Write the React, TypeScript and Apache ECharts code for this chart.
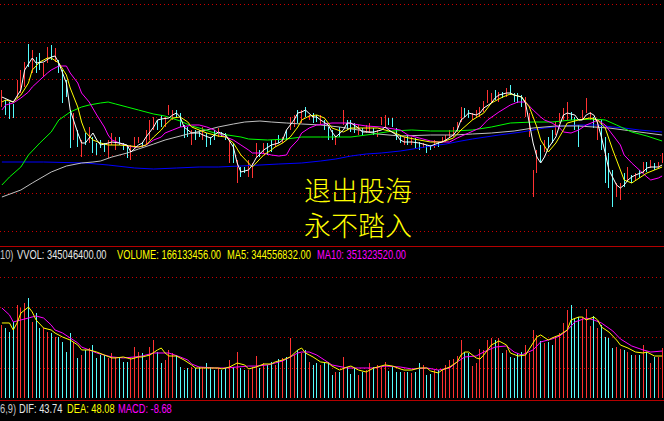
import { useEffect, useRef } from "react";
import * as echarts from "echarts";

// ---- candle data: [open, close, low, high] (index points) ----
const candles: number[][] = [
  [3195,3208,3193,3210],[3198,3187,3185,3200],[3196,3183,3181,3198],[3194,3184,3182,3196],[3204,3218,3202,3220],
  [3209,3228,3207,3230],[3215,3236,3213,3238],[3254,3235,3233,3256],[3229,3248,3227,3250],[3241,3229,3227,3243],
  [3245,3232,3230,3247],[3225,3235,3223,3237],[3239,3251,3237,3253],[3253,3242,3240,3255],[3240,3250,3238,3252],
  [3238,3229,3227,3240],[3228,3199,3197,3230],[3218,3205,3203,3220],[3188,3154,3152,3190],[3162,3185,3160,3187],
  [3168,3155,3153,3170],[3145,3158,3143,3160],[3165,3157,3155,3167],[3159,3171,3157,3173],[3161,3149,3147,3163],
  [3155,3147,3145,3157],[3158,3154,3152,3160],[3155,3150,3148,3157],[3144,3158,3142,3160],[3157,3165,3155,3167],
  [3152,3161,3150,3163],[3161,3157,3155,3163],[3156,3151,3150,3157],[3153,3144,3142,3155],[3142,3153,3140,3155],
  [3154,3161,3152,3163],[3158,3162,3157,3163],[3157,3154,3153,3158],[3157,3168,3155,3170],[3162,3178,3160,3180],
  [3172,3181,3170,3183],[3178,3172,3170,3180],[3183,3175,3173,3185],[3175,3181,3173,3183],[3187,3193,3185,3195],
  [3182,3188,3180,3190],[3188,3184,3182,3190],[3185,3175,3173,3187],[3173,3164,3162,3175],[3171,3165,3163,3173],
  [3157,3168,3155,3170],[3168,3162,3160,3170],[3169,3164,3163,3170],[3162,3171,3160,3173],[3165,3155,3153,3167],
  [3161,3157,3155,3163],[3168,3162,3160,3170],[3165,3170,3163,3172],[3167,3164,3163,3168],[3166,3161,3160,3167],
  [3139,3158,3137,3160],[3155,3139,3137,3157],[3119,3138,3117,3140],[3131,3125,3123,3133],[3132,3128,3127,3133],
  [3125,3138,3123,3140],[3124,3135,3122,3137],[3145,3155,3143,3157],[3149,3144,3143,3150],[3149,3155,3147,3157],
  [3155,3147,3145,3157],[3158,3150,3148,3160],[3154,3159,3153,3160],[3163,3159,3157,3165],[3158,3162,3157,3163],
  [3168,3162,3160,3170],[3172,3181,3170,3183],[3175,3183,3173,3185],[3188,3179,3177,3190],[3179,3188,3177,3190],
  [3191,3185,3183,3193],[3181,3184,3180,3185],[3185,3179,3177,3187],[3184,3179,3178,3185],[3177,3183,3175,3185],
  [3178,3172,3170,3180],[3171,3162,3160,3173],[3168,3162,3160,3170],[3157,3161,3155,3163],[3171,3165,3163,3173],
  [3177,3188,3175,3190],[3178,3172,3170,3180],[3178,3170,3168,3180],[3175,3169,3167,3177],[3167,3173,3165,3175],
  [3171,3166,3165,3172],[3168,3174,3167,3175],[3169,3175,3167,3177],[3171,3166,3165,3172],[3164,3169,3163,3170],
  [3176,3182,3175,3183],[3175,3183,3173,3185],[3181,3176,3175,3182],[3180,3175,3173,3182],[3170,3162,3160,3172],
  [3163,3159,3157,3165],[3157,3161,3155,3163],[3163,3157,3155,3165],[3157,3161,3155,3163],[3160,3154,3152,3162],
  [3156,3152,3150,3158],[3153,3156,3152,3157],[3153,3149,3147,3155],[3154,3151,3150,3155],[3154,3158,3152,3160],
  [3157,3154,3153,3158],[3159,3162,3158,3163],[3159,3164,3158,3165],[3164,3169,3163,3170],[3165,3171,3163,3173],
  [3170,3176,3168,3178],[3180,3191,3178,3193],[3190,3185,3183,3192],[3188,3184,3182,3190],[3181,3186,3180,3187],
  [3183,3189,3182,3190],[3185,3191,3183,3193],[3190,3197,3188,3199],[3199,3208,3197,3210],[3199,3205,3197,3207],
  [3208,3202,3200,3210],[3200,3206,3198,3208],[3207,3203,3202,3208],[3205,3210,3203,3212],[3213,3207,3205,3215],
  [3205,3200,3198,3207],[3205,3199,3197,3207],[3203,3195,3193,3205],[3185,3201,3183,3203],[3165,3185,3163,3187],
  [3105,3128,3103,3130],[3129,3148,3127,3150],[3153,3140,3138,3155],[3150,3158,3148,3160],[3161,3154,3152,3163],
  [3168,3159,3157,3170],[3167,3176,3165,3178],[3179,3185,3177,3187],[3182,3190,3180,3192],[3182,3196,3180,3198],
  [3186,3182,3180,3188],[3181,3172,3170,3183],[3173,3155,3153,3175],[3182,3188,3180,3190],[3189,3200,3187,3202],
  [3182,3186,3180,3188],[3181,3174,3172,3183],[3162,3178,3160,3180],[3178,3152,3150,3180],[3161,3119,3117,3163],
  [3145,3114,3112,3147],[3128,3095,3093,3130],[3105,3115,3103,3117],[3102,3115,3100,3117],[3125,3115,3113,3127],
  [3122,3131,3120,3133],[3123,3119,3117,3125],[3121,3126,3120,3127],[3128,3124,3122,3130],[3129,3136,3127,3138],
  [3136,3130,3128,3138],[3133,3139,3132,3140],[3136,3131,3130,3137],[3133,3137,3132,3138],[3139,3145,3137,3147],
];

// ---- volume (millions) ----
const volumes: number[] = [
  603,578,545,628,769,744,785,826,628,702,
  578,578,545,537,504,504,463,380,537,463,
  331,355,397,413,438,331,355,355,331,372,
  339,331,298,298,331,421,380,372,314,421,
  479,380,289,314,397,372,355,256,231,248,
  256,248,256,256,289,256,231,248,231,248,
  314,256,380,248,231,231,256,347,248,289,
  273,298,273,322,331,339,496,355,397,372,
  397,298,273,289,273,289,298,190,215,215,
  339,256,198,248,190,215,231,289,256,273,
  256,298,223,256,215,215,215,215,207,215,
  289,273,190,198,231,231,231,273,314,322,
  347,479,380,372,264,289,405,397,479,496,
  479,496,372,397,339,331,372,380,438,372,
  562,521,471,455,463,438,512,537,620,727,
  769,661,669,669,736,595,678,578,603,504,
  496,413,421,405,397,380,355,355,355,438,
  380,289,339,339,413,
];

// ---- price moving averages: [candle index, value] ----
const ma5: number[][] = [[0,3203],[3,3198],[5,3210],[6,3230],[8,3242],[9,3237],[11,3238],[13,3243],[14,3244],[15,3237],[17,3217],[18,3190],[20,3167],[21,3157],[22,3157],[24,3167],[25,3160],[26,3155],[28,3157],[29,3158],[31,3157],[33,3155],[34,3148],[36,3155],[37,3157],[38,3163],[40,3173],[41,3180],[42,3181],[44,3182],[45,3185],[46,3187],[47,3183],[48,3173],[49,3170],[50,3167],[52,3167],[53,3165],[55,3162],[56,3165],[57,3168],[59,3165],[61,3153],[62,3137],[63,3128],[65,3130],[66,3135],[67,3142],[69,3150],[71,3155],[73,3157],[74,3160],[75,3170],[77,3180],[78,3187],[79,3188],[80,3190],[82,3183],[83,3183],[84,3180],[86,3175],[87,3168],[88,3163],[90,3170],[91,3177],[92,3177],[94,3172],[95,3168],[97,3168],[98,3168],[100,3170],[101,3173],[102,3170],[104,3165],[105,3160],[106,3158],[108,3158],[110,3157],[112,3155],[113,3154],[115,3157],[116,3158],[117,3160],[119,3165],[120,3170],[121,3180],[122,3183],[123,3187],[125,3185],[126,3187],[127,3192],[129,3197],[130,3202],[131,3205],[133,3207],[134,3207],[135,3205],[137,3203],[138,3197],[139,3177],[140,3157],[141,3143],[142,3137],[143,3143],[144,3152],[146,3163],[147,3175],[148,3185],[149,3187],[151,3185],[152,3180],[153,3180],[154,3185],[155,3187],[156,3185],[157,3177],[158,3163],[159,3147],[160,3130],[162,3115],[163,3112],[164,3115],[165,3120],[166,3123],[167,3125],[169,3128],[170,3132],[171,3133],[173,3133],[174,3135]];
const ma10: number[][] = [[0,3198],[1,3200],[3,3198],[5,3205],[7,3217],[8,3230],[10,3238],[12,3242],[13,3242],[15,3237],[17,3225],[18,3212],[20,3193],[21,3178],[22,3168],[24,3160],[26,3157],[28,3155],[31,3155],[34,3154],[36,3153],[38,3155],[40,3163],[42,3170],[43,3175],[45,3182],[47,3183],[49,3178],[50,3173],[52,3170],[54,3167],[56,3165],[57,3164],[59,3163],[61,3157],[63,3145],[65,3137],[66,3133],[67,3137],[69,3145],[71,3150],[72,3153],[74,3157],[76,3163],[78,3173],[79,3180],[81,3184],[83,3185],[85,3182],[87,3172],[90,3168],[92,3172],[96,3172],[99,3172],[103,3168],[106,3163],[110,3160],[113,3158],[116,3158],[119,3162],[121,3170],[124,3180],[127,3187],[129,3197],[132,3203],[134,3206],[137,3203],[139,3193],[141,3173],[142,3160],[144,3148],[146,3157],[148,3170],[149,3177],[152,3180],[155,3182],[157,3180],[159,3172],[161,3150],[163,3130],[164,3120],[166,3117],[168,3122],[170,3127],[172,3130],[174,3133]];
const ma20: number[][] = [[0,3190],[1,3195],[3,3197],[5,3202],[7,3208],[8,3213],[10,3220],[12,3227],[13,3230],[15,3234],[17,3234],[18,3227],[20,3217],[21,3207],[23,3198],[25,3185],[27,3173],[28,3165],[29,3160],[31,3157],[33,3154],[35,3153],[36,3153],[38,3155],[40,3160],[42,3163],[43,3167],[45,3170],[47,3173],[49,3174],[50,3175],[52,3175],[54,3173],[56,3170],[57,3167],[59,3163],[61,3160],[63,3155],[65,3150],[66,3147],[68,3147],[70,3146],[71,3145],[73,3144],[75,3145],[76,3152],[78,3160],[79,3167],[81,3172],[83,3175],[85,3176],[87,3177],[91,3177],[96,3174],[100,3173],[105,3170],[107,3165],[110,3162],[113,3159],[115,3158],[118,3158],[120,3162],[123,3167],[126,3172],[128,3180],[131,3188],[134,3195],[136,3198],[138,3198],[140,3190],[142,3183],[143,3180],[145,3177],[147,3172],[148,3168],[150,3167],[152,3170],[154,3175],[156,3178],[157,3180],[159,3175],[161,3165],[163,3155],[164,3145],[166,3137],[168,3130],[170,3123],[171,3120],[173,3122],[174,3124]];
const ma60: number[][] = [[0,3115],[2,3123],[5,3133],[7,3145],[10,3157],[13,3168],[15,3180],[18,3188],[21,3193],[23,3195],[26,3197],[28,3198],[30,3196],[33,3193],[36,3190],[40,3186],[43,3184],[47,3179],[50,3174],[52,3172],[56,3167],[63,3163],[65,3161],[70,3160],[75,3161],[79,3163],[84,3163],[88,3163],[92,3163],[98,3166],[103,3169],[108,3170],[113,3169],[119,3169],[124,3170],[129,3173],[134,3177],[140,3178],[145,3178],[150,3180],[156,3181],[159,3180],[162,3175],[166,3168],[170,3164],[174,3159]];
const ma120: number[][] = [[0,3103],[5,3110],[8,3117],[13,3128],[17,3134],[21,3137],[24,3138],[26,3139],[29,3143],[33,3147],[36,3151],[40,3156],[43,3160],[47,3164],[50,3167],[54,3170],[57,3173],[61,3176],[64,3178],[68,3179],[71,3178],[75,3177],[79,3176],[84,3175],[89,3173],[94,3170],[99,3166],[105,3164],[113,3165],[119,3165],[124,3166],[129,3167],[135,3169],[140,3172],[146,3174],[152,3174],[156,3173],[160,3172],[164,3170],[170,3167],[174,3165]];
const ma250: number[][] = [[0,3138],[11,3138],[22,3137],[28,3135],[35,3132],[40,3131],[46,3132],[52,3133],[57,3133],[63,3134],[68,3135],[73,3136],[79,3137],[84,3139],[88,3141],[92,3144],[96,3146],[100,3147],[105,3149],[110,3152],[113,3154],[117,3156],[121,3159],[124,3161],[131,3165],[137,3168],[143,3172],[148,3174],[152,3175],[157,3175],[161,3173],[164,3172],[168,3170],[174,3168]];

// ---- volume moving averages (millions) ----
const volMa5: number[][] = [[0,620],[2,620],[3,562],[4,620],[5,702],[7,752],[8,711],[9,645],[11,578],[13,562],[14,537],[16,504],[18,479],[20,438],[21,397],[23,397],[25,380],[27,355],[29,331],[30,331],[32,339],[34,322],[36,339],[37,339],[39,355],[41,397],[42,413],[43,372],[44,347],[46,347],[48,314],[50,273],[51,248],[53,248],[55,248],[57,248],[58,240],[60,256],[62,289],[64,273],[65,240],[67,256],[69,281],[71,281],[72,298],[74,314],[76,339],[78,397],[79,413],[80,372],[82,339],[84,298],[86,289],[87,264],[89,231],[91,256],[92,264],[94,231],[96,215],[98,248],[99,256],[101,273],[103,264],[105,240],[106,231],[108,231],[110,248],[112,248],[113,223],[115,207],[116,231],[118,256],[120,298],[121,355],[122,380],[123,380],[125,331],[126,322],[127,355],[129,438],[131,471],[133,438],[134,372],[136,347],[138,355],[140,455],[141,504],[142,521],[144,479],[145,496],[147,521],[149,562],[150,645],[152,669],[153,669],[154,645],[156,669],[157,645],[158,587],[160,545],[162,479],[163,438],[165,413],[167,380],[169,372],[170,380],[172,347],[174,347]];
const volMa10: number[][] = [[0,744],[2,686],[3,628],[5,645],[7,661],[9,678],[11,661],[13,603],[14,562],[16,537],[18,496],[20,455],[21,421],[23,397],[25,372],[27,355],[29,339],[32,331],[35,339],[37,347],[40,372],[43,372],[44,372],[47,339],[49,314],[50,281],[52,256],[56,248],[59,248],[62,256],[65,264],[67,264],[70,273],[72,289],[74,306],[76,339],[78,372],[79,380],[81,380],[83,355],[85,314],[87,273],[91,248],[94,248],[98,248],[101,264],[105,256],[108,240],[112,248],[115,231],[118,248],[120,298],[122,339],[125,347],[127,380],[130,421],[133,430],[135,380],[137,355],[140,397],[142,463],[145,488],[147,512],[149,560],[151,628],[154,661],[156,645],[158,620],[161,554],[163,488],[166,430],[169,397],[171,380],[174,388]];

// ---- readout texts ----
const volReadouts = [
  { text: "10)", x: 0, color: "#c8c8c8" },
  { text: "VVOL: 345046400.00", x: 17, color: "#e6e6e6" },
  { text: "VOLUME: 166133456.00", x: 117, color: "#ffff00" },
  { text: "MA5: 344556832.00", x: 227, color: "#ffff00" },
  { text: "MA10: 351323520.00", x: 317, color: "#ff00ff" },
];
const macdReadouts = [
  { text: "6,9)", x: 0, color: "#c8c8c8" },
  { text: "DIF: 43.74", x: 19, color: "#e6e6e6" },
  { text: "DEA: 48.08", x: 67, color: "#ffff00" },
  { text: "MACD: -8.68", x: 118, color: "#ff00ff" },
];
const slogan = ["退出股海", "永不踏入"];

const RED = "#ff3232";
const CYAN = "#54fcfc";
const GRID = "#c80000";
const SEP = "#b40000";
const TXT_FONT = "Liberation Sans, Arial, sans-serif";

export default function App() {
  const ref = useRef<HTMLDivElement>(null);
  useEffect(() => {
    const chart = echarts.init(ref.current!, null, { renderer: "svg" });
    const categories = candles.map((_, i) => String(i + 1));
    const lineS = (name: string, data: number[][], color: string, xi: number, yi: number) => ({
      name,
      type: "line",
      xAxisIndex: xi,
      yAxisIndex: yi,
      data,
      symbol: "none",
      showSymbol: false,
      silent: true,
      lineStyle: { color, width: 1 },
      itemStyle: { color },
      z: 3,
    });
    const txt = (text: string, x: number, y: number, color: string) => ({
      type: "text",
      x,
      y,
      scaleX: 0.745,
      z: 20,
      silent: true,
      style: {
        text,
        fill: color,
        fontSize: 12.5,
        fontFamily: TXT_FONT,
        align: "left",
        verticalAlign: "middle",
      },
    });
    const gridSplit = {
      show: true,
      lineStyle: { color: GRID, width: 1, type: [1, 3] },
    };
    const option: any = {
      animation: false,
      backgroundColor: "#000000",
      grid: [
        { left: 0, right: 0, top: 4, height: 239 },
        { left: 0, right: 0, top: 277, height: 121 },
      ],
      xAxis: [
        { type: "category", gridIndex: 0, data: categories, boundaryGap: true, show: false },
        { type: "category", gridIndex: 1, data: categories, boundaryGap: true, show: false },
      ],
      yAxis: [
        { type: "value", gridIndex: 0, min: 3057, max: 3296, show: false },
        {
          type: "value",
          gridIndex: 1,
          min: 0,
          max: 1000,
          interval: 250,
          axisLine: { show: false },
          axisTick: { show: false },
          axisLabel: { show: false },
          splitLine: { ...gridSplit, showMinLine: false },
        },
        {
          type: "value",
          gridIndex: 0,
          inverse: true,
          min: 0,
          max: 239,
          interval: 37.8,
          axisLine: { show: false },
          axisTick: { show: false },
          axisLabel: { show: false },
          splitLine: { ...gridSplit, showMaxLine: false },
        },
      ],
      series: [
        {
          name: "K",
          type: "custom",
          xAxisIndex: 0,
          yAxisIndex: 0,
          silent: true,
          z: 2,
          data: candles.map((c, i) => [i, c[0], c[1], c[2], c[3]]),
          encode: { x: 0, y: [1, 2, 3, 4] },
          renderItem: (_p: any, api: any) => {
            const i = api.value(0);
            const hi = api.coord([i, api.value(4)]);
            const lo = api.coord([i, api.value(3)]);
            const up = api.value(2) >= api.value(1);
            const x = Math.floor(hi[0]) + 0.5;
            return {
              type: "line",
              shape: { x1: x, y1: hi[1], x2: x, y2: lo[1] },
              style: { stroke: up ? RED : CYAN, lineWidth: 1 },
            };
          },
        },
        lineS("MA250", ma250, "#0000ff", 0, 0),
        lineS("MA120", ma120, "#c0c0c0", 0, 0),
        lineS("MA60", ma60, "#00ff00", 0, 0),
        lineS("MA20", ma20, "#ff00ff", 0, 0),
        lineS("MA10", ma10, "#ffff00", 0, 0),
        lineS("MA5", ma5, "#ffffff", 0, 0),
        {
          name: "VOL",
          type: "custom",
          xAxisIndex: 1,
          yAxisIndex: 1,
          silent: true,
          z: 2,
          data: volumes.map((v, i) => [i, v, candles[i][1] >= candles[i][0] ? 1 : 0]),
          encode: { x: 0, y: 1 },
          renderItem: (_p: any, api: any) => {
            const i = api.value(0);
            const top = api.coord([i, api.value(1)]);
            const base = api.coord([i, 0]);
            return {
              type: "rect",
              shape: { x: Math.floor(top[0]), y: top[1], width: 1, height: base[1] - top[1] },
              style: { fill: api.value(2) ? RED : CYAN },
            };
          },
        },
        lineS("VMA10", volMa10, "#ff00ff", 1, 1),
        lineS("VMA5", volMa5, "#ffff00", 1, 1),
      ],
      graphic: [
        { type: "line", silent: true, z: 5, shape: { x1: 0, y1: 246.5, x2: 664, y2: 246.5 }, style: { stroke: SEP, lineWidth: 1 } },
        { type: "line", silent: true, z: 5, shape: { x1: 0, y1: 400.5, x2: 664, y2: 400.5 }, style: { stroke: SEP, lineWidth: 1 } },
        ...volReadouts.map((r) => txt(r.text, r.x, 254.5, r.color)),
        ...macdReadouts.map((r) => txt(r.text, r.x, 408, r.color)),
        ...slogan.map((s, k) => ({
          type: "text",
          x: 358,
          y: k === 0 ? 189 : 224.5,
          z: 20,
          silent: true,
          style: {
            text: s,
            fill: "#ffff00",
            fontSize: 27,
            fontWeight: 300,
            fontFamily: '"Noto Sans CJK SC", "Noto Sans CJK JP", sans-serif',
            align: "center",
            verticalAlign: "middle",
          },
        })),
      ],
    };
    chart.setOption(option);
    return () => chart.dispose();
  }, []);
  return (
    <div
      ref={ref}
      style={{ position: "fixed", left: 0, top: 0, width: 664, height: 421, background: "#000" }}
    />
  );
}
